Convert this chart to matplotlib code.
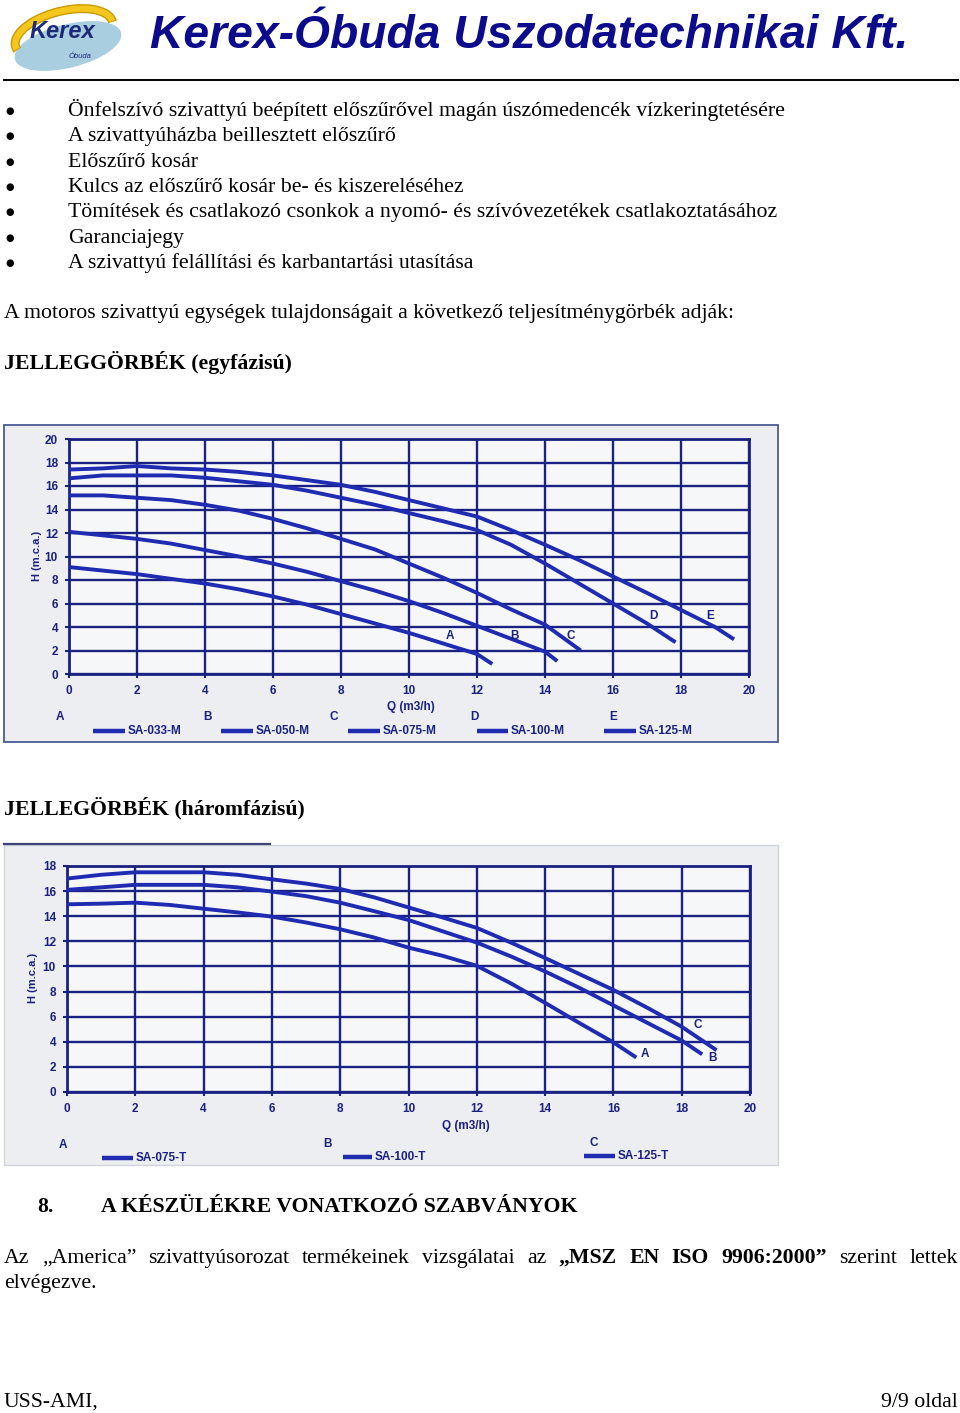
import matplotlib
matplotlib.use("Agg")
import matplotlib.pyplot as plt
from matplotlib.patches import Ellipse, Arc, Rectangle

W, H = 960, 1413

NAVY = '#1B2180'
CURVE = '#1F2BB0'
PANEL = '#ECEEF2'
PLOTBG = '#F6F7F9'
TITLE = '#0B0B8C'
SERIF = 'Liberation Serif'
SANS = 'Liberation Sans'
FS = 15.7

# ---- page text ----
BULLETS = [
    'Önfelszívó szivattyú beépített előszűrővel magán úszómedencék vízkeringtetésére',
    'A szivattyúházba beillesztett előszűrő',
    'Előszűrő kosár',
    'Kulcs az előszűrő kosár be- és kiszereléséhez',
    'Tömítések és csatlakozó csonkok a nyomó- és szívóvezetékek csatlakoztatásához',
    'Garanciajegy',
    'A szivattyú felállítási és karbantartási utasítása',
]

# ---- chart 1: single phase ----
Q_A1 = [0, 1, 2, 3, 4, 5, 6, 7, 8, 9, 10, 11, 12, 12.45]
H_A1 = [9.1, 8.8, 8.5, 8.1, 7.7, 7.2, 6.6, 5.9, 5.1, 4.3, 3.5, 2.6, 1.7, 0.85]
Q_B1 = [0, 1, 2, 3, 4, 5, 6, 7, 8, 9, 10, 11, 12, 13, 14, 14.36]
H_B1 = [12.1, 11.8, 11.5, 11.1, 10.55, 10.0, 9.4, 8.7, 7.9, 7.1, 6.2, 5.2, 4.1, 3.0, 1.9, 1.1]
Q_C1 = [0, 1, 2, 3, 4, 5, 6, 7, 8, 9, 10, 11, 12, 13, 14, 15.05]
H_C1 = [15.2, 15.2, 15.0, 14.8, 14.4, 13.9, 13.2, 12.4, 11.5, 10.6, 9.4, 8.2, 6.9, 5.5, 4.2, 2.0]
Q_D1 = [0, 1, 2, 3, 4, 5, 6, 7, 8, 9, 10, 11, 12, 13, 14, 15, 16, 17, 17.84]
H_D1 = [16.65, 16.9, 16.9, 16.9, 16.7, 16.4, 16.1, 15.6, 15.0, 14.4, 13.7, 13.0, 12.25,
        11.0, 9.4, 7.7, 6.0, 4.3, 2.7]
Q_E1 = [0, 1, 2, 3, 4, 5, 6, 7, 8, 9, 10, 11, 12, 13, 14, 15, 16, 17, 18, 19, 19.56]
H_E1 = [17.4, 17.5, 17.7, 17.5, 17.4, 17.2, 16.9, 16.5, 16.1, 15.5, 14.8, 14.1, 13.4,
        12.25, 11.0, 9.7, 8.3, 6.9, 5.45, 4.0, 2.95]
LETTERS1 = ['A', 'B', 'C', 'D', 'E']
MODELS1 = ['SA-033-M', 'SA-050-M', 'SA-075-M', 'SA-100-M', 'SA-125-M']

# ---- chart 2: three phase ----
Q_A2 = [0, 1, 2, 3, 4, 5, 6, 7, 8, 9, 10, 11, 12, 13, 14, 15, 16, 16.67]
H_A2 = [14.95, 15.0, 15.08, 14.9, 14.6, 14.3, 13.97, 13.5, 12.96, 12.3, 11.5, 10.85,
        10.05, 8.65, 7.1, 5.5, 3.95, 2.75]
Q_B2 = [0, 1, 2, 3, 4, 5, 6, 7, 8, 9, 10, 11, 12, 13, 14, 15, 16, 17, 18, 18.6]
H_B2 = [16.1, 16.3, 16.5, 16.5, 16.5, 16.3, 15.96, 15.6, 15.08, 14.4, 13.7, 12.8,
        11.9, 10.8, 9.6, 8.3, 6.9, 5.5, 4.1, 3.0]
Q_C2 = [0, 1, 2, 3, 4, 5, 6, 7, 8, 9, 10, 11, 12, 13, 14, 15, 16, 17, 18, 19.02]
H_C2 = [17.0, 17.3, 17.5, 17.5, 17.5, 17.3, 16.94, 16.6, 16.17, 15.5, 14.7, 13.9,
        13.07, 11.9, 10.67, 9.4, 8.13, 6.7, 5.2, 3.33]
LETTERS2 = ['A', 'B', 'C']
MODELS2 = ['SA-075-T', 'SA-100-T', 'SA-125-T']

fig = plt.figure(figsize=(W / 100, H / 100), dpi=100)
fig.patch.set_facecolor('white')
page = fig.add_axes([0, 0, 1, 1])
page.set_xlim(0, W)
page.set_ylim(H, 0)
page.axis('off')


def txt(x, y, s, size=FS, weight='normal', family=SERIF, **kw):
    return page.text(x, y, s, fontsize=size, fontweight=weight, family=family,
                     va='baseline', **kw)


# ---- header with logo ----
page.add_patch(Ellipse((68, 46), 108, 42, angle=-14, color='#A9CEDF', zorder=1))
page.add_patch(Arc((64, 34), 100, 46, angle=-14, theta1=175, theta2=360,
                   color='#C99A05', lw=6.5, zorder=2))
page.add_patch(Arc((64, 34), 100, 46, angle=-14, theta1=176, theta2=359,
                   color='#F5C61C', lw=4.5, zorder=3))
page.text(62, 31, 'Kerex', fontsize=17, fontweight='bold', style='italic',
          family=SANS, color='#1C2A78', ha='center', va='center', zorder=4)
page.text(80, 57, 'Óbuda', fontsize=5.5, style='italic', family=SANS,
          color='#1C2A78', ha='center', va='center', zorder=4)
title = page.text(150, 36, 'Kerex-Óbuda Uszodatechnikai Kft.', fontsize=30,
                  fontweight='bold', style='italic', family=SANS, color=TITLE,
                  va='center')
page.plot([4, 958], [80, 80], color='black', lw=1.4)

renderer = fig.canvas.get_renderer()


def fit_width(t, width):
    w = t.get_window_extent(renderer).width
    t.set_fontsize(t.get_fontsize() * width / w)


fit_width(title, 758)

# ---- bullet list ----
for i, line in enumerate(BULLETS):
    y = 116 + i * 25.3
    page.text(10, y - 5, '●', fontsize=7, family=['DejaVu Sans'], ha='center',
              va='center', color='black')
    txt(68, y, line)

txt(4, 318, 'A motoros szivattyú egységek tulajdonságait a következő teljesítménygörbék adják:')
txt(4, 369, 'JELLEGGÖRBÉK (egyfázisú)', weight='bold')
txt(4, 814, 'JELLEGÖRBÉK (háromfázisú)', weight='bold')


# ---- charts ----
def add_chart(px, ymax, curves, label_pos):
    x0, x1, y0, y1 = px
    ax = fig.add_axes([x0 / W, 1 - y1 / H, (x1 - x0) / W, (y1 - y0) / H])
    ax.set_facecolor(PLOTBG)
    ax.set_xlim(0, 20)
    ax.set_ylim(0, ymax)
    ax.set_xticks(range(0, 21, 2))
    ax.set_yticks(range(0, ymax + 1, 2))
    ax.grid(True, color=NAVY, lw=1.7)
    ax.set_axisbelow(True)
    for sp in ax.spines.values():
        sp.set_color(NAVY)
        sp.set_linewidth(2)
    ax.tick_params(length=3, width=1.5, color=NAVY, pad=5, labelsize=8.5,
                   labelcolor=NAVY)
    for lbl in ax.get_xticklabels() + ax.get_yticklabels():
        lbl.set_fontweight('bold')
        lbl.set_family(SANS)
    for q, h in curves:
        ax.plot(q, h, color=CURVE, lw=2.8, solid_capstyle='butt', zorder=3)
    for letter, (qx, hy) in label_pos.items():
        ax.text(qx, hy, letter, color=NAVY, fontsize=8.5, fontweight='bold',
                family=SANS, ha='center', va='center', zorder=4)
    return ax


# panel 1
page.add_patch(Rectangle((4, 425), 774, 317, facecolor=PANEL, edgecolor='#4B5A93',
                         lw=1.3, zorder=0))
add_chart((69, 749, 439, 674), 20,
          [(Q_A1, H_A1), (Q_B1, H_B1), (Q_C1, H_C1), (Q_D1, H_D1), (Q_E1, H_E1)],
          {'A': (11.2, 3.2), 'B': (13.1, 3.2), 'C': (14.75, 3.2),
           'D': (17.2, 4.9), 'E': (18.85, 4.9)})
page.text(411, 707, 'Q (m3/h)', fontsize=8.5, fontweight='bold', family=SANS,
          color=NAVY, ha='center', va='center')
page.text(37, 556, 'H (m.c.a.)', fontsize=8, fontweight='bold', family=SANS,
          color=NAVY, ha='center', va='center', rotation=90)
leg1_letter_x = [60, 207, 334, 474, 613]
leg1_line_x = [(93, 125), (221, 253), (348, 380), (477, 508), (604, 636)]
for letter, model, lx, (a, b) in zip(LETTERS1, MODELS1, leg1_letter_x, leg1_line_x):
    page.text(lx, 717, letter, fontsize=8.5, fontweight='bold', family=SANS,
              color=NAVY, ha='center', va='center')
    page.plot([a, b], [731, 731], color=CURVE, lw=3.2, solid_capstyle='butt')
    page.text(b + 3, 731, model, fontsize=8.5, fontweight='bold', family=SANS,
              color=NAVY, ha='left', va='center')

# panel 2
page.add_patch(Rectangle((4, 845), 774, 320, facecolor=PANEL, edgecolor='#D0D4DC',
                         lw=1.0, zorder=0))
page.plot([4, 270], [844, 844], color='#3A4478', lw=1.6, zorder=1)
add_chart((67, 750, 866, 1092), 18,
          [(Q_A2, H_A2), (Q_B2, H_B2), (Q_C2, H_C2)],
          {'A': (16.92, 3.0), 'B': (18.9, 2.67), 'C': (18.48, 5.33)})
page.text(466, 1126, 'Q (m3/h)', fontsize=8.5, fontweight='bold', family=SANS,
          color=NAVY, ha='center', va='center')
page.text(33, 978, 'H (m.c.a.)', fontsize=8, fontweight='bold', family=SANS,
          color=NAVY, ha='center', va='center', rotation=90)
leg2_letter = [(63, 1145), (328, 1144), (594, 1143)]
leg2_line_x = [(102, 133), (343, 372), (584, 615)]
for letter, model, (lx, ly), (a, b) in zip(LETTERS2, MODELS2, leg2_letter, leg2_line_x):
    page.text(lx, ly, letter, fontsize=8.5, fontweight='bold', family=SANS,
              color=NAVY, ha='center', va='center')
    page.plot([a, b], [ly + 13, ly + 13], color=CURVE, lw=3.2, solid_capstyle='butt')
    page.text(b + 3, ly + 13, model, fontsize=8.5, fontweight='bold', family=SANS,
              color=NAVY, ha='left', va='center')

# ---- section 8 ----
txt(37, 1212, '8.', weight='bold')
txt(101, 1212, 'A KÉSZÜLÉKRE VONATKOZÓ SZABVÁNYOK', weight='bold')

# justified paragraph line
words = [('Az', 'normal'), ('„America”', 'normal'), ('szivattyúsorozat', 'normal'),
         ('termékeinek', 'normal'), ('vizsgálatai', 'normal'), ('az', 'normal'),
         ('„MSZ', 'bold'), ('EN', 'bold'), ('ISO', 'bold'), ('9906:2000”', 'bold'),
         ('szerint', 'normal'), ('lettek', 'normal')]
items = [txt(0, 1263, w, weight=wt) for w, wt in words]
widths = [t.get_window_extent(renderer).width for t in items]
gap = (958 - 4 - sum(widths)) / (len(items) - 1)
x = 4
for t, w in zip(items, widths):
    t.set_x(x)
    x += w + gap
txt(4, 1288, 'elvégezve.')

# ---- footer ----
txt(4, 1407, 'USS-AMI,')
txt(958, 1407, '9/9 oldal', ha='right')

fig.savefig('out.png', dpi=100, facecolor='white')
